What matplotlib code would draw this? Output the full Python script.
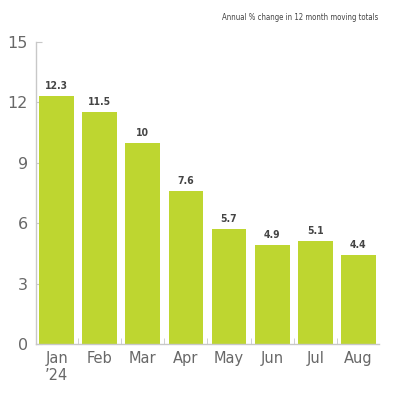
import matplotlib.pyplot as plt

# Data
months = ['Jan\n\u201924', 'Feb', 'Mar', 'Apr', 'May', 'Jun', 'Jul', 'Aug']
values = [12.3, 11.5, 10, 7.6, 5.7, 4.9, 5.1, 4.4]
value_labels = ['12.3', '11.5', '10', '7.6', '5.7', '4.9', '5.1', '4.4']
y_ticks = [0, 3, 6, 9, 12, 15]
title = 'Annual % change in 12 month moving totals'

bar_color = '#bed630'
axis_color = '#c8c8c8'
text_color = '#686868'

fig = plt.figure(figsize=(4, 4), dpi=100)
ax = fig.add_axes([0.09, 0.14, 0.8575, 0.755])

x = range(len(months))
ax.bar(x, values, width=0.81, color=bar_color, zorder=2)

# Value labels above bars
for xi, v, lab in zip(x, values, value_labels):
    ax.text(xi, v + 0.25, lab, ha='center', va='bottom', fontsize=7.5,
            fontweight='bold', color='#444444', fontstretch='condensed')

ax.set_xlim(-0.48, 7.48)
ax.set_ylim(0, 15)
ax.set_yticks(y_ticks)
ax.set_yticklabels([str(t) for t in y_ticks])

ax.set_xticks(list(x))
ax.set_xticklabels(months)
ax.set_xticks([i + 0.5 for i in range(len(months) - 1)], minor=True)

for side in ['top', 'right']:
    ax.spines[side].set_visible(False)
for side in ['left', 'bottom']:
    ax.spines[side].set_color(axis_color)
    ax.spines[side].set_linewidth(1)

ax.tick_params(axis='y', direction='in', length=4, color=axis_color,
               labelsize=11.5, labelcolor=text_color, pad=6)
ax.tick_params(axis='x', which='major', length=0, labelsize=10.5,
               labelcolor=text_color, pad=5)
ax.tick_params(axis='x', which='minor', direction='in', length=4,
               color=axis_color)

fig.text(0.945, 0.957, title, ha='right', va='center', fontsize=5.6,
         color='#444444', fontstretch='condensed')

fig.savefig('out.png', dpi=100)
